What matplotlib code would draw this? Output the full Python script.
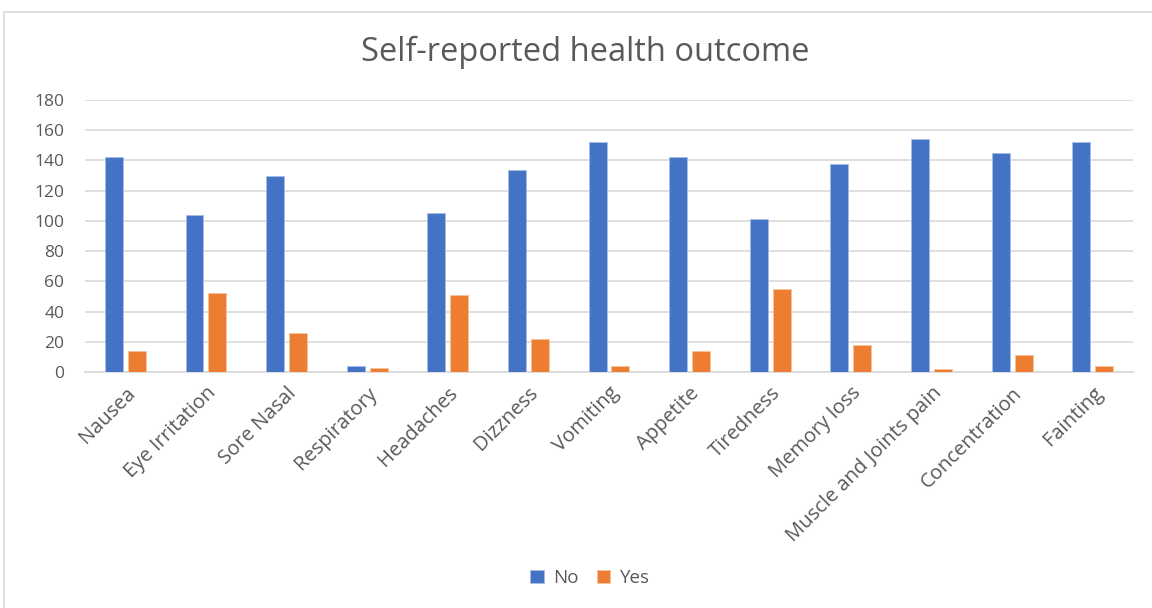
import matplotlib
matplotlib.use('Agg')
import matplotlib.pyplot as plt
import numpy as np
from matplotlib.patches import Rectangle

# Data
categories = ['Nausea', 'Eye Irritation', 'Sore Nasal', 'Respiratory', 'Headaches',
              'Dizzness', 'Vomiting', 'Appetite', 'Tiredness', 'Memory loss',
              'Muscle and Joints pain', 'Concentration', 'Fainting']
no_vals = [142, 104, 130, 4, 105, 134, 152, 142, 101, 138, 154, 145, 152]
yes_vals = [14, 52, 26, 3, 51, 22, 4, 14, 55, 18, 2, 11, 4]
yticks = [0, 20, 40, 60, 80, 100, 120, 140, 160, 180]

plt.rcParams['font.family'] = ['Open Sans', 'DejaVu Sans']
text_color = '#595959'
grid_color = '#D9D9D9'

fig = plt.figure(figsize=(11.52, 6.08), dpi=100)
ax = fig.add_axes([0.0738, 0.388, 0.9097, 0.4475])

x = np.arange(len(categories))
w = 0.223
off = 0.142
ax.bar(x - off, no_vals, w, color='#4472C4', edgecolor='#A9BDE6', linewidth=0.6, label='No', zorder=3)
ax.bar(x + off, yes_vals, w, color='#ED7D31', edgecolor='#F6C3A0', linewidth=0.6, label='Yes', zorder=3)

ax.set_xlim(-0.5, len(categories) - 0.5)
ax.set_ylim(0, 180)
ax.set_yticks(yticks)
ax.set_yticklabels([str(t) for t in yticks], fontsize=12.5, color=text_color)
ax.set_xticks(x)
ax.set_xticklabels(categories, rotation=45, ha='right', rotation_mode='anchor',
                   fontsize=14.5, color=text_color)
ax.tick_params(length=0)
ax.tick_params(axis='y', pad=15)
ax.tick_params(axis='x', pad=8)
ax.yaxis.grid(True, color=grid_color, linewidth=1.2, zorder=0)
for s in ['top', 'right', 'left']:
    ax.spines[s].set_visible(False)
ax.spines['bottom'].set_color(grid_color)
ax.spines['bottom'].set_linewidth(1.2)

fig.text(585 / 1152, 1 - 52 / 608, 'Self-reported health outcome', ha='center', va='center',
         fontsize=23.5, color=text_color)

fig.legend(loc='center', bbox_to_anchor=(590 / 1152, 1 - 578 / 608), ncol=2, frameon=False,
           fontsize=13.5, handlelength=0.7, handleheight=0.7, handletextpad=0.5,
           columnspacing=1.0, labelcolor=text_color)

# outer chart frame
fig.patches.append(Rectangle((4 / 1152, -0.01), 1.0, 1 - 12 / 608 + 0.01, transform=fig.transFigure,
                             fill=False, edgecolor='#D9D9D9', linewidth=1.2))

fig.savefig('out.png', dpi=100)
